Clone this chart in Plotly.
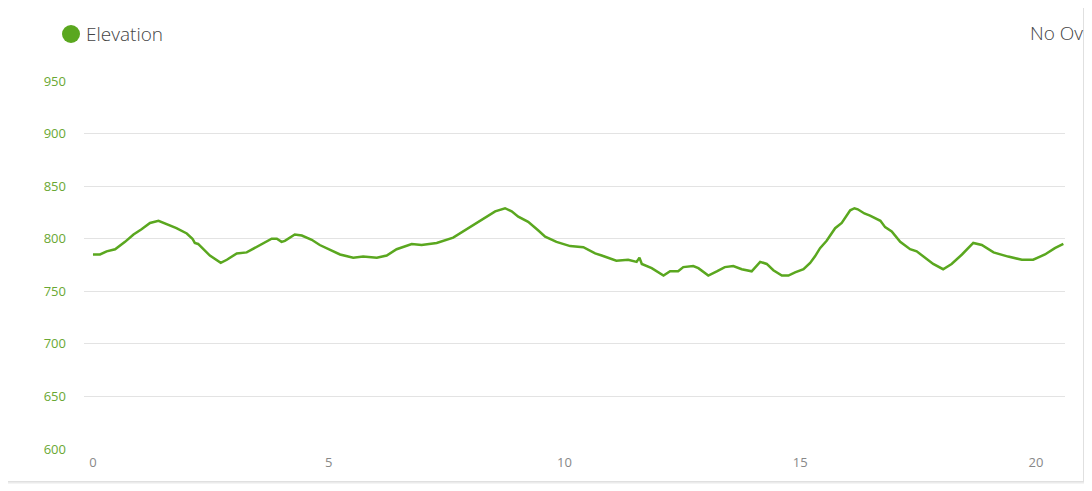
import plotly.graph_objects as go

# distance along route [km] and elevation [m]
distance_km = [
    0.0, 0.15, 0.29, 0.47, 0.68, 0.86, 1.03, 1.21, 1.39, 1.56, 1.77, 1.99,
    2.11, 2.16, 2.23, 2.48, 2.71, 2.84, 3.05, 3.26, 3.54, 3.79, 3.9, 4.0,
    4.07, 4.28, 4.43, 4.64, 4.81, 4.96, 5.13, 5.24, 5.52, 5.73, 6.02, 6.23,
    6.44, 6.76, 6.97, 7.29, 7.64, 7.89, 8.28, 8.53, 8.74, 8.88, 9.02, 9.23,
    9.44, 9.59, 9.83, 10.12, 10.4, 10.65, 10.79, 11.1, 11.35, 11.53, 11.59,
    11.64, 11.85, 12.1, 12.24, 12.41, 12.52, 12.73, 12.84, 13.05, 13.23,
    13.4, 13.58, 13.76, 13.97, 14.15, 14.29, 14.43, 14.61, 14.75, 14.89,
    15.07, 15.21, 15.31, 15.42, 15.56, 15.74, 15.88, 16.06, 16.15, 16.22,
    16.36, 16.48, 16.7, 16.8, 16.94, 17.12, 17.33, 17.47, 17.61, 17.82,
    18.03, 18.21, 18.43, 18.67, 18.85, 19.1, 19.41, 19.7, 19.94, 20.19,
    20.4, 20.58,
]
elevation_m = [
    785, 785, 788, 790, 797, 804, 809, 815, 817, 814, 810, 805,
    800, 796, 795, 784, 777, 780, 786, 787, 794, 800, 800, 797,
    798, 804, 803, 799, 794, 791, 787, 785, 782, 783, 782, 784,
    790, 795, 794, 796, 801, 808, 819, 826, 829, 826, 821, 816,
    808, 802, 797, 793, 792, 786, 784, 779, 780, 778, 782,
    776, 772, 765, 769, 769, 773, 774, 772, 765, 769,
    773, 774, 771, 769, 778, 776, 770, 765, 765, 768,
    771, 777, 783, 791, 798, 810, 815, 827, 829, 828,
    824, 822, 817, 811, 807, 797, 790, 788, 783, 776,
    771, 776, 785, 796, 794, 787, 783, 780, 780, 785,
    791, 795,
]
y_ticks = [600, 650, 700, 750, 800, 850, 900, 950]
x_ticks = [0, 5, 10, 15, 20]

# the page puts the figure 8px in from the top-left corner
OFF = 8
W, H = 1092 - OFF, 491 - OFF
L, R, T, B = 84 - OFF, 27, 81 - OFF, 42
pw, ph = W - L - R, H - T - B


def px_x(p):
    return (p - OFF - L) / pw


def px_y(p):
    return (H - B - (p - OFF)) / ph


green = "#5aa71f"

fig = go.Figure()
fig.add_trace(go.Scatter(
    x=distance_km,
    y=elevation_m,
    mode="lines",
    name="Elevation",
    line=dict(color=green, width=2.5),
    showlegend=False,
))

# card with a soft shadow
shapes = []
for i, c in enumerate(["#f4f4f4", "#ebebeb", "#e0e0e0"]):
    d = 3 - i
    shapes.append(dict(
        type="rect", xref="paper", yref="paper", layer="below",
        x0=px_x(8 - d), x1=px_x(1083 + d), y0=px_y(481 + d), y1=px_y(8 - d),
        line=dict(width=0), fillcolor=c,
    ))
shapes.append(dict(
    type="rect", xref="paper", yref="paper", layer="below",
    x0=px_x(8), x1=px_x(1083), y0=px_y(481), y1=px_y(8),
    line=dict(width=0), fillcolor="white",
))
# legend dot
shapes.append(dict(
    type="circle", xref="paper", yref="paper",
    x0=px_x(62), x1=px_x(80), y0=px_y(43), y1=px_y(25),
    line=dict(width=0), fillcolor=green,
))

fig.update_layout(
    width=W,
    height=H,
    margin=dict(l=L, r=R, t=T, b=B),
    paper_bgcolor="white",
    plot_bgcolor="rgba(0,0,0,0)",
    font=dict(family="Open Sans", color="#333"),
    shapes=shapes,
    annotations=[
        dict(text="Elevation", xref="paper", yref="paper", x=px_x(84), y=px_y(34),
             xanchor="left", yanchor="middle", showarrow=False,
             font=dict(size=19, color="#444", weight=300)),
        dict(text="No Ov", xref="paper", yref="paper", x=px_x(1028), y=px_y(33),
             xanchor="left", yanchor="middle", showarrow=False,
             font=dict(size=19, color="#444", weight=300)),
    ],
    xaxis=dict(
        range=[-0.19, 20.615],
        tickvals=x_ticks,
        showgrid=False,
        zeroline=False,
        showline=False,
        ticks="",
        ticklabelstandoff=4,
        tickfont=dict(size=13, color="#888"),
    ),
    yaxis=dict(
        range=[600, 950],
        tickvals=y_ticks,
        gridcolor="#e3e3e3",
        gridwidth=1,
        zeroline=False,
        showline=False,
        ticks="",
        ticklabelstandoff=17,
        tickfont=dict(size=13, color="#6aa833"),
    ),
)

fig.write_html("out.html")
